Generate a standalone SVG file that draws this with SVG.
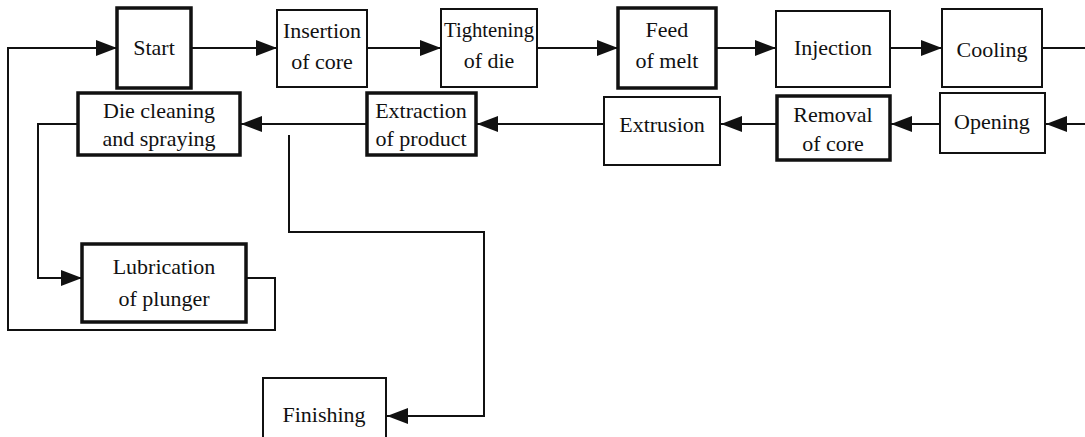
<svg xmlns="http://www.w3.org/2000/svg" width="1085" height="437" viewBox="0 0 1085 437">
<defs>
<style>
.box{fill:#fff;stroke:#111;stroke-width:2}
.thick{stroke-width:3.5}
.lbl{font-family:"Liberation Serif","DejaVu Serif","Times New Roman",serif;font-size:22px;fill:#111;text-anchor:middle}
.ln{fill:none;stroke:#111;stroke-width:2}
</style>
<marker id="ah" markerWidth="23" markerHeight="18" refX="21" refY="9" orient="auto" markerUnits="userSpaceOnUse">
<path d="M0,1 L21,9 L0,17 Z" fill="#111"/>
</marker>
</defs>
<rect width="1085" height="437" fill="#fff"/>
<g id="connectors">
<path class="ln" d="M246,278 H275 V330 H8 V48 H117" marker-end="url(#ah)"/>
<path class="ln" d="M191,48 H277" marker-end="url(#ah)"/>
<path class="ln" d="M367,48 H441" marker-end="url(#ah)"/>
<path class="ln" d="M537,48 H618" marker-end="url(#ah)"/>
<path class="ln" d="M716,48 H776" marker-end="url(#ah)"/>
<path class="ln" d="M890,48 H942" marker-end="url(#ah)"/>
<path class="ln" d="M1042,48 H1085"/>
<path class="ln" d="M1085,124 H1046" marker-end="url(#ah)"/>
<path class="ln" d="M940,124 H891" marker-end="url(#ah)"/>
<path class="ln" d="M777,124 H721" marker-end="url(#ah)"/>
<path class="ln" d="M604,124 H477" marker-end="url(#ah)"/>
<path class="ln" d="M367,124 H241" marker-end="url(#ah)"/>
<path class="ln" d="M78,124 H38 V278 H82" marker-end="url(#ah)"/>
<path class="ln" d="M289,135 V232 H484 V416 H387" marker-end="url(#ah)"/>
</g>
<g id="start"><rect class="box thick" x="117" y="8" width="74" height="80"/><text class="lbl" x="154" y="55">Start</text></g>
<g id="insertion"><rect class="box" x="277" y="10" width="90" height="77"/><text class="lbl" x="322" y="38">Insertion</text><text class="lbl" x="322" y="69">of core</text></g>
<g id="tightening"><rect class="box" x="441" y="9" width="96" height="78"/><text class="lbl" x="489" y="37" textLength="90" lengthAdjust="spacingAndGlyphs">Tightening</text><text class="lbl" x="489" y="68">of die</text></g>
<g id="feed"><rect class="box thick" x="618" y="8" width="98" height="80"/><text class="lbl" x="667" y="37">Feed</text><text class="lbl" x="667" y="68">of melt</text></g>
<g id="injection"><rect class="box" x="776" y="11" width="114" height="76"/><text class="lbl" x="833" y="55">Injection</text></g>
<g id="cooling"><rect class="box" x="942" y="9" width="100" height="78"/><text class="lbl" x="992" y="57">Cooling</text></g>
<g id="opening"><rect class="box" x="940" y="93" width="105" height="60"/><text class="lbl" x="992" y="129">Opening</text></g>
<g id="removal"><rect class="box thick" x="777" y="96" width="113" height="64"/><text class="lbl" x="833" y="122">Removal</text><text class="lbl" x="833" y="151">of core</text></g>
<g id="extrusion"><rect class="box" x="604" y="97" width="116" height="68"/><text class="lbl" x="662" y="132">Extrusion</text></g>
<g id="extraction"><rect class="box thick" x="367" y="93" width="109" height="62"/><text class="lbl" x="421" y="118">Extraction</text><text class="lbl" x="421" y="146">of product</text></g>
<g id="diecleaning"><rect class="box thick" x="78" y="93" width="162" height="62"/><text class="lbl" x="159" y="118">Die cleaning</text><text class="lbl" x="159" y="146">and spraying</text></g>
<g id="lubrication"><rect class="box thick" x="82" y="244" width="164" height="78"/><text class="lbl" x="164" y="274">Lubrication</text><text class="lbl" x="164" y="306">of plunger</text></g>
<g id="finishing"><rect class="box" x="263" y="378" width="123" height="70"/><text class="lbl" x="324" y="422">Finishing</text></g>
</svg>
